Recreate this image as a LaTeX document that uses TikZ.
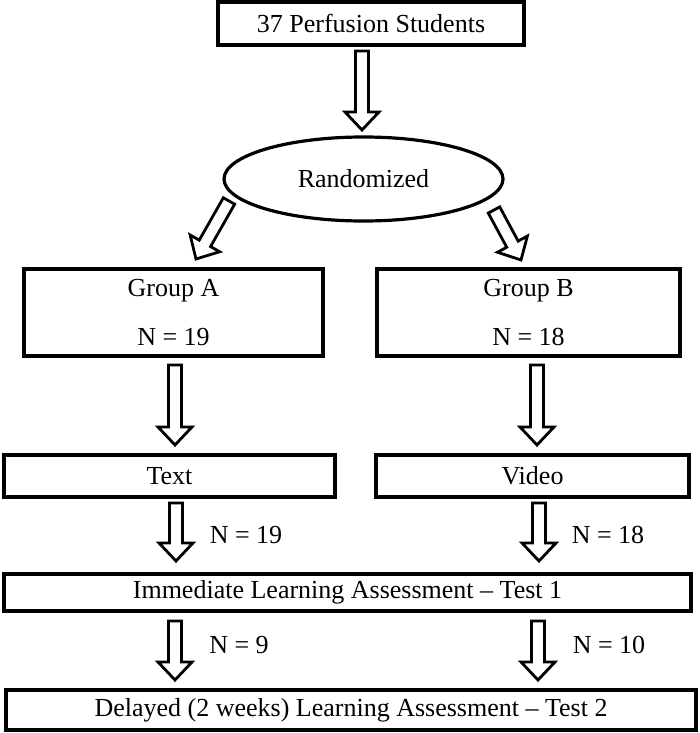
\documentclass[tikz,border=0pt]{standalone}
\usepackage{fontspec}
\setmainfont{Liberation Serif}
\usetikzlibrary{shapes.geometric,calc}

\tikzset{
  box/.style={draw, line width=2pt, inner sep=0pt, font=\fontsize{13}{15.6}\selectfont},
  blockline/.style={draw, line width=1.4pt, line join=miter, fill=white},
  countlabel/.style={font=\fontsize{13}{15.6}\selectfont, inner sep=0pt}
}

% hollow block arrow from #1 to #2
\newcommand{\blockarrow}[2]{%
  \coordinate (ba-c) at ($(#2)!9pt!(#1)$);
  \draw[blockline] ($(#1)!3.25pt!90:(#2)$) -- ($(ba-c)!3.25pt!90:(#2)$) -- ($(ba-c)!8.5pt!90:(#2)$)
    -- (#2) -- ($(ba-c)!8.5pt!-90:(#2)$) -- ($(ba-c)!3.25pt!-90:(#2)$) -- ($(#1)!3.25pt!-90:(#2)$) -- cycle;}

\begin{document}
\begin{tikzpicture}[x=0.5pt,y=-0.5pt]
	\useasboundingbox (0,0) rectangle (700,733);
	%%boxes
	\node[box, minimum width=153pt, minimum height=21.5pt] (students) at (371,23.5) {37 Perfusion Students};
	\node[box, ellipse, line width=1.6pt, minimum width=139.5pt, minimum height=42pt] (random) at (363.5,179) {Randomized};
	\node[box, align=center, minimum width=149.5pt, minimum height=43.5pt] (groupA) at (173.5,312.5) {Group A\\[8.5pt]N = 19};
	\node[box, align=center, minimum width=151.5pt, minimum height=43.5pt] (groupB) at (528.5,312.5) {Group B\\[8.5pt]N = 18};
	\node[box, minimum width=165.5pt, minimum height=21pt] (text) at (169.5,476) {Text};
	\node[box, minimum width=156.5pt, minimum height=21pt] (video) at (532.5,476) {Video};
	\node[box, minimum width=343.5pt, minimum height=18.5pt] (test1) at (347.5,592.5) {Immediate Learning Assessment -- Test 1};
	\node[box, minimum width=345pt, minimum height=20pt] (test2) at (351,710) {Delayed (2 weeks) Learning Assessment -- Test 2};
	%%arrow ends
	\coordinate (s1) at (362,51);  \coordinate (e1) at (362,130);
	\coordinate (s2) at (229,201); \coordinate (e2) at (196,259);
	\coordinate (s3) at (494,210); \coordinate (e3) at (521,260);
	\coordinate (s4) at (175,365); \coordinate (e4) at (175,445);
	\coordinate (s5) at (537,365); \coordinate (e5) at (537,445);
	\coordinate (s6) at (176,503); \coordinate (e6) at (176,561);
	\coordinate (s7) at (539,503); \coordinate (e7) at (539,561);
	\coordinate (s8) at (175,621); \coordinate (e8) at (175,680);
	\coordinate (s9) at (538,621); \coordinate (e9) at (538,680);
	\foreach \n in {1,...,9} {\blockarrow{s\n}{e\n}}
	%%counts
	\node[countlabel] (nText) at (246,535) {N = 19};
	\node[countlabel] (nVideo) at (608,535) {N = 18};
	\node[countlabel] (nLeft) at (239,645) {N = 9};
	\node[countlabel] (nRight) at (609,645) {N = 10};
\end{tikzpicture}
\end{document}
